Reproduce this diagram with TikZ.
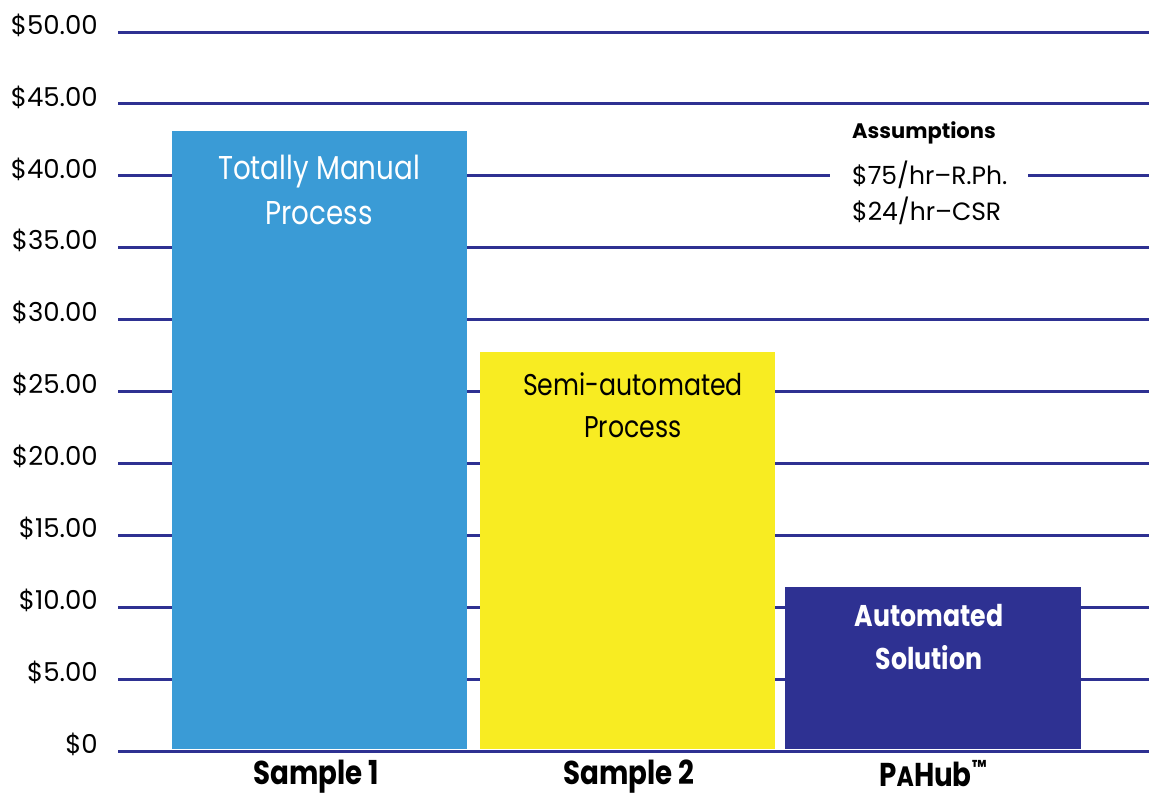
\documentclass[tikz,border=0pt]{standalone}
\usepackage{fontspec}
\setmainfont{Poppins}
\newfontfamily\narrowfont[FakeStretch=0.84]{Poppins}
\definecolor{grid}{HTML}{2E3192}
\definecolor{barA}{HTML}{3A9BD6}
\definecolor{barB}{HTML}{F8EC22}
\definecolor{barC}{HTML}{2E3192}
\tikzset{
  gridline/.style={draw=grid, line width=3pt},
  axislbl/.style={anchor=east, font=\fontsize{26}{26}\selectfont, inner sep=0pt},
  barbox/.style={anchor=south west, inner sep=0pt, draw=none},
  bartxt/.style={align=center, inner sep=0pt},
  catlbl/.style={font=\narrowfont\bfseries\fontsize{33}{33}\selectfont, inner sep=0pt},
  asstxt/.style={anchor=west, font=\fontsize{25}{25}\selectfont, inner sep=0pt}
}
\begin{document}
\begin{tikzpicture}[x=1pt,y=-1pt]
\useasboundingbox (0,0) rectangle (1149,798);
% gridlines and axis labels
\foreach \v [count=\i from 0] in {\$0,\$5.00,\$10.00,\$15.00,\$20.00,\$25.00,\$30.00,\$35.00,\$40.00,\$45.00,\$50.00}{
  \pgfmathsetmacro{\yy}{751.5-71.95*\i}
  \coordinate (gl\i) at (118,\yy);
  \coordinate (gr\i) at (1149,\yy);
  \draw[gridline] (gl\i) -- (gr\i);
  \node[axislbl] (lab\i) at (98,\yy-7) {\v};
}
% bars
\node[barbox, fill=barA, minimum width=295pt, minimum height=618pt] (bar1) at (172,749) {};
\node[barbox, fill=barB, minimum width=295pt, minimum height=397pt] (bar2) at (479.5,749) {};
\node[barbox, fill=barC, minimum width=296pt, minimum height=162pt] (bar3) at (785,749) {};
% bar texts
\node[bartxt, text=white, font=\narrowfont\fontsize{33}{45}\selectfont] (t1) at (319,190) {Totally Manual\\Process};
\node[bartxt, text=black, font=\narrowfont\fontsize{30}{42}\selectfont] (t2) at (633,405) {Semi-automated\\Process};
\node[bartxt, text=white, font=\narrowfont\bfseries\fontsize{30}{43}\selectfont] (t3) at (929,637) {Automated\\Solution};
% category labels
\node[catlbl] (c1) at (316,777) {Sample 1};
\node[catlbl] (c2) at (629,777) {Sample 2};
\node[catlbl, anchor=base] (c3) at (933,786) {P{\fontsize{28}{28}\selectfont A}Hub\raisebox{0.36em}{\fontsize{20}{20}\selectfont ™}};
% assumptions
\fill[white] (830,165) rectangle (1028,188);
\node[asstxt, font=\bfseries\fontsize{21}{21}\selectfont] (a0) at (852,133) {Assumptions};
\node[asstxt] (a1) at (852,175) {\$75/hr–R.Ph.};
\node[asstxt] (a2) at (852,211) {\$24/hr–CSR};
\end{tikzpicture}
\end{document}
